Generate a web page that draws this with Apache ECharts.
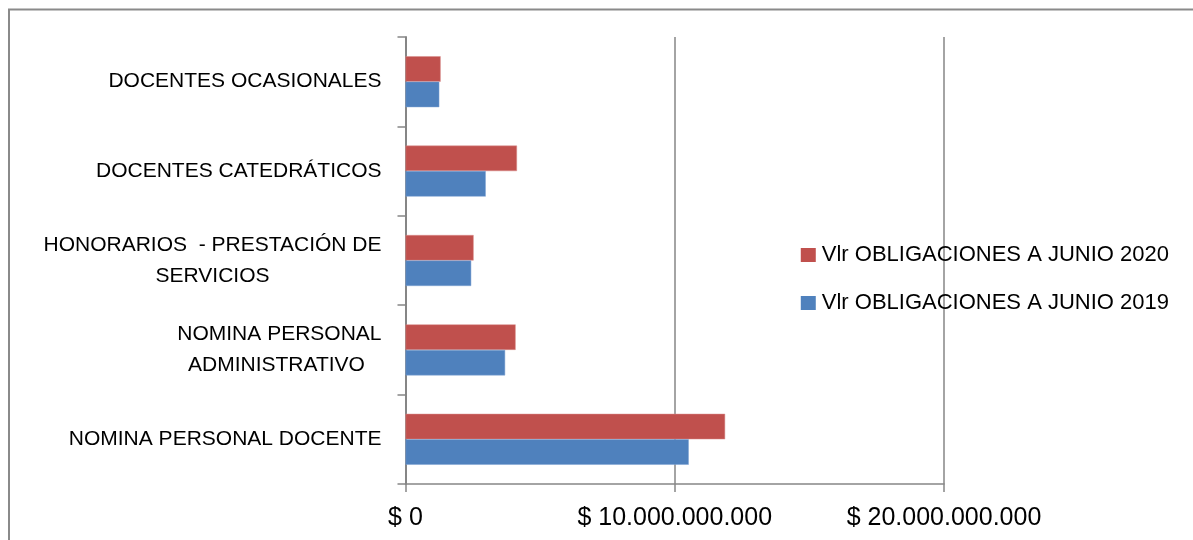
<!DOCTYPE html>
<html><head><meta charset="utf-8">
<script src="https://cdn.jsdelivr.net/npm/echarts@6/dist/echarts.min.js"></script>
<style>html,body{margin:0;padding:0;background:#fff}#c{width:1193px;height:540px}</style>
</head><body><div id="c"></div>
<script>
const categories = ["NOMINA PERSONAL DOCENTE", "NOMINA PERSONAL\nADMINISTRATIVO ", "HONORARIOS  - PRESTACIÓN DE\nSERVICIOS", "DOCENTES CATEDRÁTICOS", "DOCENTES OCASIONALES"];
const seriesNames = ["Vlr OBLIGACIONES A JUNIO 2020", "Vlr OBLIGACIONES A JUNIO 2019"];
const values2020 = [11870000000, 4090000000, 2530000000, 4140000000, 1305000000];
const values2019 = [10520000000, 3700000000, 2440000000, 2980000000, 1255000000];
const xTicks = { min: 0, max: 20000000000, interval: 10000000000 };

const FONT = '"Liberation Sans", sans-serif';
function fmt(v){ return '$ ' + String(Math.round(v)).replace(/\B(?=(\d{3})+(?!\d))/g, '.'); }

const chart = echarts.init(document.getElementById('c'), null, {renderer:'canvas'});
chart.setOption({
  backgroundColor: '#fff',
  animation: false,
  textStyle: { fontFamily: FONT },
  graphic: [{ type:'rect', shape:{x:9, y:9.5, width:1200, height:600}, style:{fill:'none', stroke:'#8a8a8a', lineWidth:2}, silent:true }],
  grid: { left: 405.5, top: 37, right: 249, bottom: 56, containLabel: false },
  legend: {
    orient: 'vertical', right: 19, top: 239,
    data: [seriesNames[0], seriesNames[1]],
    icon: 'rect', itemWidth: 15, itemHeight: 14, itemGap: 26,
    itemStyle: { borderWidth: 0 },
    textStyle: { fontSize: 22, color: '#000', fontFamily: FONT, padding: [0,0,0,1] }
  },
  xAxis: {
    type: 'value', min: xTicks.min, max: xTicks.max, interval: xTicks.interval,
    axisLine: { show: true, lineStyle: { color: '#868686', width: 1.5 } },
    axisTick: { show: true, length: 8, lineStyle: { color: '#868686', width: 1.5 } },
    splitLine: { show: true, lineStyle: { color: '#868686', width: 1.5 } },
    axisLabel: { formatter: fmt, fontSize: 25, color: '#000', margin: 22, fontFamily: FONT }
  },
  yAxis: {
    type: 'category', data: categories,
    axisLine: { show: true, lineStyle: { color: '#868686', width: 2 } },
    axisTick: { show: true, length: 8, lineStyle: { color: '#868686', width: 1.5 } },
    axisLabel: {
      margin: 24, color: '#000', fontSize: 21, fontFamily: FONT, align: 'right',
      formatter: v => v.split('\n').map(l => '{c|' + l + '}').join('\n'),
      rich: { c: { align: 'center', fontSize: 21, lineHeight: 31, color: '#000', fontFamily: FONT } }
    }
  },
  series: [
    { name: seriesNames[0], type: 'bar', data: values2020, barGap: '0%', barCategoryGap: '43%',
      itemStyle: { color: '#c0504d', borderColor: '#d98c8a', borderWidth: 0.5 } },
    { name: seriesNames[1], type: 'bar', data: values2019, barGap: '0%', barCategoryGap: '43%',
      itemStyle: { color: '#4f81bd', borderColor: '#7ea3d3', borderWidth: 0.5 } }
  ]
});
</script></body></html>
